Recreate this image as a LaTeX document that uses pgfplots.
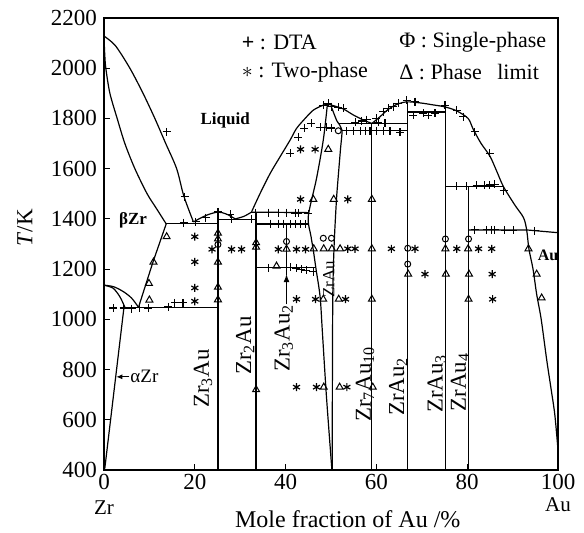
\documentclass[border=0pt]{standalone}
\usepackage{fontspec}
\setmainfont{Liberation Serif}
\usepackage{pgfplots}
\pgfplotsset{compat=1.18}
\usetikzlibrary{arrows.meta}

\begin{document}
\begin{tikzpicture}
\begin{axis}[name=ax, scale only axis, width=227pt, height=226pt,
  xmin=0, xmax=100, ymin=400, ymax=2200,
  xtick={0,20,...,100}, ytick={400,600,...,2200},
  tick align=inside, xtick pos=bottom, ytick pos=left,
  major tick length=3pt,
  axis line style={line width=0.6pt},
  tick style={line width=0.5pt, black},
  /pgf/number format/assume math mode=true,
  /pgf/number format/1000 sep={},
  ticklabel style={font=\fontsize{11.5}{13}\selectfont},
  xticklabel style={yshift=1.5pt},
  clip=false,
  cycle list={{black,solid,mark=none}},
  every axis plot/.append style={black, line width=0.6pt},
]
% --- Zr side
\addplot[smooth] coordinates {(0,2128)(2.5,2090)(5.7,2000)(8.6,1900)(11.2,1800)(13.6,1700)(16,1600)(17.6,1490)(19.7,1388)};
\addplot[smooth] coordinates {(0,2128)(0.15,2060)(0.4,2000)(1.3,1900)(2.9,1800)(4.6,1700)(6.8,1600)(9.5,1500)(11.6,1440)(13.7,1380)};
\addplot coordinates {(7.6,1048)(10.8,1229)(13.7,1380)};
\addplot[smooth] coordinates {(0,1136)(2.1,1130)(4.3,1110)(6.1,1084)(7.6,1048)};
\addplot[smooth] coordinates {(0,1136)(2.0,1124)(3.5,1090)(4.6,1048)};
\addplot coordinates {(4.4,1048)(0.2,410)(0,400)};
\addplot coordinates {(4.4,1048)(25.1,1048)};
\addplot coordinates {(13.7,1382)(25.1,1382)};
\addplot coordinates {(25.1,1398)(33.5,1398)};
\addplot[smooth] coordinates {(19.7,1388)(22.5,1414)(25.1,1427)(27,1419)(28.9,1400)};
\addplot[smooth] coordinates {(28.9,1400)(30.8,1410)(32.5,1427)};
% --- compounds
\addplot coordinates {(25.1,400)(25.1,1427)};
\addplot coordinates {(33.5,400)(33.5,1427)};
\addplot coordinates {(32.5,1427)(45,1425)};
\addplot coordinates {(33.5,1380)(44.9,1380)};
\addplot coordinates {(33.5,1205)(46.6,1205)};
\addplot coordinates {(40.2,1205)(40.2,1380)};
\addplot[-{Latex[length=4pt,width=3pt]}] coordinates {(40.2,1060)(40.2,1180)};
\addplot coordinates {(40.2,1175)(40.2,1205)};
% --- liquidus domes
\addplot[smooth] coordinates {(32.5,1428)(34.4,1502)(36.6,1581)(38.8,1648)(41,1714)(42.4,1760)(44.3,1800)(46.1,1833)(48.3,1853)(49.4,1856)(50.5,1851)(52.7,1838)(54.9,1814)(57.1,1794)(59,1780)};
\addplot[smooth] coordinates {(59,1780)(60.8,1807)(62.6,1836)(64.5,1856)(66.7,1866)(69.6,1862)(72.5,1854)(75.1,1846)(77.7,1830)(80.2,1800)(81.3,1758)(83,1702)(85,1650)(86.5,1590)(88,1528)(90.5,1455)(92.4,1405)(93.1,1356)(93.6,1280)(94.5,1200)(95.3,1100)(96.3,1000)(97.5,840)(98.5,720)(99.3,620)(100,480)};
% --- ZrAu
\addplot[smooth] coordinates {(49.2,1855)(48.3,1714)(46.8,1560)(45,1410)(45.6,1330)(46.1,1276)(46.7,1200)(47.6,1090)(48.1,950)(49,692)(50.2,400)};
\addplot[smooth] coordinates {(50,1850)(51.3,1790)(52.4,1755)(52.1,1680)(51.6,1570)(51.2,1475)(50.7,1300)(50.4,1100)(50.3,700)(50.3,400)};
\addplot coordinates {(51.6,1780)(66.9,1780)};
\addplot coordinates {(52.4,1752)(66.9,1752)};
\addplot coordinates {(58.9,400)(58.9,1782)};
\addplot coordinates {(66.9,400)(66.9,1866)};
\addplot coordinates {(75.2,400)(75.2,1846)};
\addplot coordinates {(66.9,1826)(75.2,1826)};
\addplot coordinates {(75.2,1530)(88.2,1530)};
\addplot coordinates {(80.2,400)(80.2,1530)};
\addplot coordinates {(80.2,1356)(93.1,1356)(100,1345)};
% --- DTA
\addplot[only marks, mark=+, mark size=2pt, mark options={line width=0.55pt}] coordinates {
(13.8,1747)(17.8,1488)(17.6,1385)(20.2,1388)(22.4,1405)(25.1,1428)(27.8,1419)(28.1,1398)(32.5,1398)
(33.3,1425)(36.2,1425)(38.4,1425)(40.2,1425)(42.1,1423)(42.8,1423)(45,1420)
(36.6,1381)(38.4,1381)(39.5,1381)(41,1380)(42.1,1380)(43.2,1380)(44.3,1380)
(36.2,1205)(41,1207)(42.4,1203)(43.5,1200)(44.6,1196)(46.1,1190)
(2.0,1045)(4.3,1045)(6.1,1043)(7.9,1047)(9.8,1045)(14.2,1050)(15.6,1066)(17.4,1066)
(41,1661)(42.8,1725)(44.1,1760)(45.7,1780)(47.6,1765)(49,1765)(50.1,1762)
(48.3,1853)(49.4,1860)(50.1,1847)(51.6,1845)(52.7,1840)
(53.5,1751)(54.9,1751)(56.4,1751)(57.5,1751)(58.6,1751)(60,1751)(61.5,1751)(63,1751)(65.2,1745)
(55.3,1785)(56.8,1790)(57.9,1795)(60.4,1785)(61.9,1780)
(60,1800)(61.5,1827)(62.6,1840)(63.7,1847)(64.8,1860)(66.7,1873)(68.5,1867)
(68.1,1813)(70.3,1820)(71.4,1813)(72.9,1820)
(75.1,1853)(77.7,1833)(79.1,1807)(81.7,1747)(85,1661)(88,1512)
(77.7,1530)(79.9,1530)(82.1,1533)(83.9,1533)(85,1535)(86.1,1538)
(81.7,1356)(84.3,1356)(85.4,1356)(86.1,1356)(88.3,1355)(90.1,1355)(94.9,1352)};
% --- two-phase
\addplot[only marks, mark=asterisk, mark size=2pt, mark options={line width=0.6pt}] coordinates {
(20,1329)(20,1229)(20,1125)(20,1072)(23.8,1279)(28.1,1279)(30.3,1279)
(38.4,1279)(42.4,1279)(44.4,1279)(53.7,1281)(55.3,1281)(63.3,1281)(68.5,1281)(77.7,1281)(82.5,1281)(85.4,1281)
(43.3,1478)(53.7,1478)(43.3,1677)(46.5,1677)
(70.7,1180)(85.5,1180)
(42.4,1080)(46.6,1080)(53.2,1080)(85.6,1080)
(42.4,730)(46.8,730)(53.5,730)};
% --- single phase
\addplot[only marks, mark=o, mark size=1.5pt, mark options={line width=0.5pt}] coordinates {
(25.1,1298)(40.2,1310)(48.3,1323)(50.1,1323)(51.6,1751)(66.9,1283)(66.9,1220)(75.2,1320)(80.3,1320)};
% --- phase limit
\addplot[only marks, mark=triangle, mark size=2pt, mark options={line width=0.5pt}] coordinates {
(10.9,1228)(13.8,1329)(9.9,1143)(10,1077)
(25.1,1343)(25.1,1320)(25.1,1228)(25.1,1128)(25.1,1078)
(33.5,1305)(33.5,1288)(33.5,720)(40.2,1280)(38,1212)
(46.2,1281)(48.4,1281)(50.2,1281)(52,1281)(59,1281)(75.2,1281)(80.2,1281)(93.5,1281)
(46.1,1478)(50.6,1478)(59,1478)(49.4,1677)
(67,1180)(75.3,1180)(80.4,1180)(95.3,1180)
(48.3,1080)(51.7,1080)(59,1080)(80.3,1080)(96.4,1085)
(48.4,730)(51.9,730)(59.2,730)};
% --- labels
\node[font=\bfseries\fontsize{8.5}{10}\selectfont] at (axis cs:26.7,1794) {Liquid};
\node[font=\bfseries\fontsize{8.5}{10}\selectfont] at (axis cs:6.4,1396) {βZr};
\node[font=\bfseries\fontsize{8}{10}\selectfont] at (axis cs:97.8,1256) {Au};
\node[font=\fontsize{9.5}{11}\selectfont] at (axis cs:8.9,771) {αZr};
\draw[-{Latex[length=3pt,width=2.5pt]}, line width=0.5pt] (axis cs:5.6,771) -- (axis cs:2.7,771);
\begin{scope}[every node/.style={rotate=90, font=\fontsize{11.4}{13}\selectfont}]
\node at (axis cs:21.8,765) {Zr\textsubscript{3}Au};
\node at (axis cs:31.1,895) {Zr\textsubscript{2}Au};
\node at (axis cs:39.6,925) {Zr\textsubscript{3}Au\textsubscript{2}};
\node[font=\fontsize{8.5}{10}\selectfont] at (axis cs:49.5,1160) {ZrAu};
\node at (axis cs:57.5,742) {Zr\textsubscript{7}Au\textsubscript{10}};
\node at (axis cs:64.8,733) {ZrAu\textsubscript{2}};
\node at (axis cs:73.3,745) {ZrAu\textsubscript{3}};
\node at (axis cs:78.4,750) {ZrAu\textsubscript{4}};
\end{scope}
\begin{scope}[every node/.style={anchor=west, font=\fontsize{11}{13}\selectfont}]
\node at (axis cs:28.8,2104) {\textbf{+} : DTA};
\node at (axis cs:28.8,1985) {$\ast$ : Two-phase};
\node at (axis cs:63.5,2104) {Φ : Single-phase};
\node at (axis cs:63.5,1985) {Δ : Phase\hspace{0.7em}limit};
\end{scope}
\node[font=\fontsize{10.5}{12}\selectfont] at (axis cs:0,400) [yshift=-19pt] {Zr};
\node[font=\fontsize{10.5}{12}\selectfont] at (axis cs:100,400) [yshift=-17.5pt] {Au};
\node[font=\fontsize{12}{14}\selectfont] at (axis cs:53.7,400) [yshift=-24.5pt] {Mole fraction of Au /\%};
\node[rotate=90, font=\fontsize{11.5}{13}\selectfont] at (axis cs:-17.4,1364) {\textit{T}/K};
\end{axis}
\pgfresetboundingbox
\path ([shift={(-52pt,-31pt)}]ax.south west) rectangle ([shift={(240pt,235pt)}]ax.south west);
\end{tikzpicture}
\end{document}
